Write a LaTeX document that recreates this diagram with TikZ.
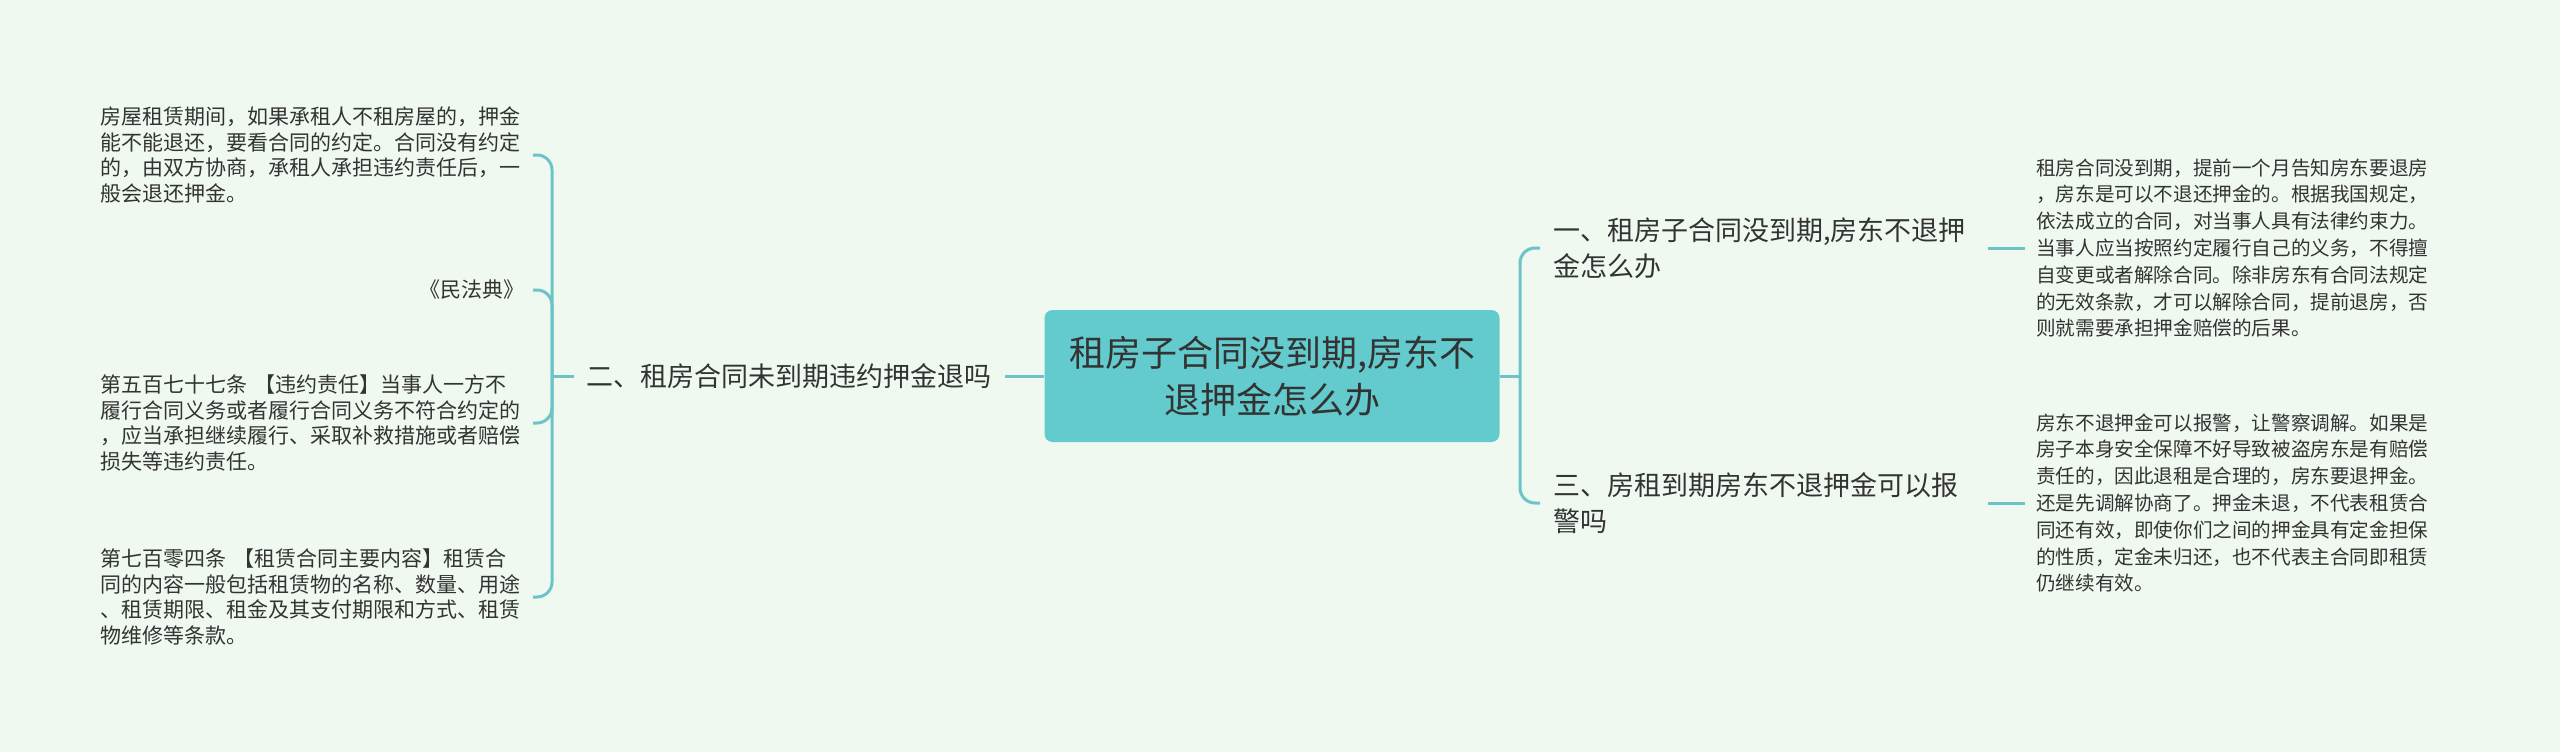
\documentclass[tikz,border=0pt]{standalone}
\usepackage{fontspec}
\setmainfont{Noto Sans CJK SC}
\usepackage{tikz}
\usetikzlibrary{positioning}
\definecolor{bgmint}{HTML}{F0F9F0}
\definecolor{rootteal}{HTML}{63CBCD}
\definecolor{linkteal}{HTML}{6CC4C9}
\definecolor{inkgray}{HTML}{333333}

\begin{document}
\begin{tikzpicture}[x=1pt, y=-1pt,
    root/.style={rectangle, rounded corners=8pt, fill=rootteal, text=inkgray, inner sep=0pt,
      minimum width=455pt, minimum height=132pt, align=center, font=\fontsize{36}{47}\selectfont},
    topic/.style={inner xsep=13pt, inner ysep=0pt, text=inkgray, align=left, font=\fontsize{27}{36}\selectfont},
    leaf/.style={inner xsep=8pt, inner ysep=0pt, text=inkgray, align=left, font=\fontsize{21}{25.5}\selectfont},
    note/.style={inner xsep=11pt, inner ysep=0pt, text=inkgray, text width=395pt, align=left, font=\fontsize{19.6}{26.8}\selectfont},
    link/.style={draw=linkteal, line width=3pt, rounded corners=15pt}]
    \useasboundingbox[fill=bgmint] (0,0) rectangle (2560,752);

    \node[root] (r) at (1272,376) {租房子合同没到期,房东不\\退押金怎么办};

    % left side
    \node[topic, anchor=east] (t2) at (1005,376) {二、租房合同未到期违约押金退吗};
    \coordinate (lfork) at (552,376);
    \node[leaf, anchor=east, text width=424pt] (l1) at (533,155) {房屋租赁期间，如果承租人不租房屋的，押金\\能不能退还，要看合同的约定。合同没有约定\\的，由双方协商，承租人承担违约责任后，一\\般会退还押金。};
    \node[leaf, anchor=east] (l2) at (533,290) {《民法典》};
    \node[leaf, anchor=east, text width=424pt] (l3) at (533,423) {第五百七十七条 【违约责任】当事人一方不\\履行合同义务或者履行合同义务不符合约定的\\，应当承担继续履行、采取补救措施或者赔偿\\损失等违约责任。};
    \node[leaf, anchor=east, text width=424pt] (l4) at (533,597) {第七百零四条 【租赁合同主要内容】租赁合\\同的内容一般包括租赁物的名称、数量、用途\\、租赁期限、租金及其支付期限和方式、租赁\\物维修等条款。};

    % right side
    \coordinate (rfork) at (1520,376);
    \node[topic, anchor=west, text width=422pt] (t1) at (1540,248) {一、租房子合同没到期,房东不退押\\金怎么办};
    \node[topic, anchor=west, text width=422pt] (t3) at (1540,503) {三、房租到期房东不退押金可以报\\警吗};
    \node[note, anchor=west] (n1) at (2025,248) {租房合同没到期，提前一个月告知房东要退房\\，房东是可以不退还押金的。根据我国规定，\\依法成立的合同，对当事人具有法律约束力。\\当事人应当按照约定履行自己的义务，不得擅\\自变更或者解除合同。除非房东有合同法规定\\的无效条款，才可以解除合同，提前退房，否\\则就需要承担押金赔偿的后果。};
    \node[note, anchor=west] (n3) at (2025,503) {房东不退押金可以报警，让警察调解。如果是\\房子本身安全保障不好导致被盗房东是有赔偿\\责任的，因此退租是合理的，房东要退押金。\\还是先调解协商了。押金未退，不代表租赁合\\同还有效，即使你们之间的押金具有定金担保\\的性质，定金未归还，也不代表主合同即租赁\\仍继续有效。};

    \draw[link] (t2.east) -- (r.west);
    \draw[link] (t2.west) -- (lfork);
    \draw[link] (l1.east) -| (lfork);
    \draw[link] (l2.east) -| (lfork);
    \draw[link] (l3.east) -| (lfork);
    \draw[link] (l4.east) -| (lfork);
    \draw[link] (r.east) -- (rfork);
    \draw[link] (t1.west) -| (rfork);
    \draw[link] (t3.west) -| (rfork);
    \draw[link] (t1.east) -- (n1.west);
    \draw[link] (t3.east) -- (n3.west);
\end{tikzpicture}
\end{document}
